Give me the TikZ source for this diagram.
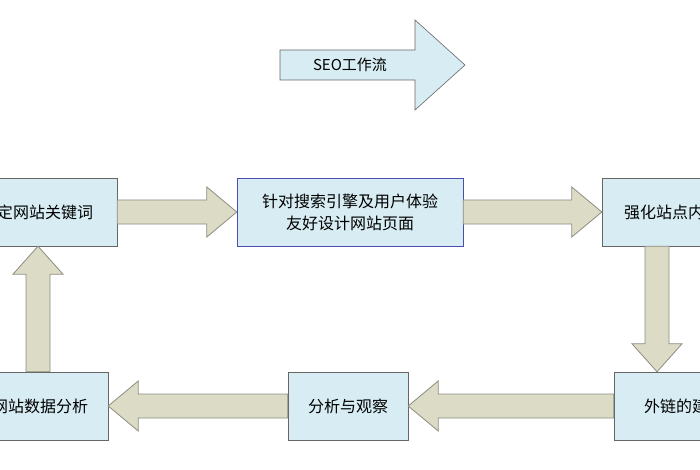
\documentclass[tikz,border=0pt]{standalone}
\usepackage{fontspec}
\newfontfamily\cjk{Noto Sans CJK SC}
\usetikzlibrary{calc}
\definecolor{boxblue}{HTML}{D7ECF3}
\definecolor{arrbeige}{HTML}{DCDCC6}
\definecolor{arrgray}{HTML}{8C8C80}
\tikzset{
  stepbox/.style={draw=gray!80!black, fill=boxblue, inner sep=0pt, align=center, font=\cjk\fontsize{16}{22}\selectfont},
  fatarrow/.style={draw=arrgray, fill=arrbeige, line width=0.8pt, line join=miter}
}
\begin{document}
\begin{tikzpicture}[x=1pt,y=-1pt]
  \useasboundingbox (0,0) rectangle (700,470);
  \clip (0,0) rectangle (700,470);
  \fill[white] (0,0) rectangle (700,470);

  % title arrow
  \draw[fill=boxblue, draw=gray!80!black, line width=0.6pt]
    (280,50) -- (415,50) -- (415,20) -- (465,65) -- (415,110) -- (415,80) -- (280,80) -- cycle;
  \node[font=\cjk\fontsize{15}{18}\selectfont] (title) at (350,65) {SEO工作流};

  % boxes
  \node[stepbox, minimum width=160, minimum height=68] (keyword) at (37,212) {确定网站关键词};
  \node[stepbox, draw=blue!40!gray, minimum width=226, minimum height=68] (design) at (350,212) {针对搜索引擎及用户体验\\友好设计网站页面};
  \node[stepbox, minimum width=140, minimum height=68, text width=120] (inner) at (672,212) {强化站点内容};
  \node[stepbox, minimum width=140, minimum height=68, text width=120] (links) at (684,406) {外链的建设};
  \node[stepbox, minimum width=120, minimum height=68] (observe) at (348,406) {分析与观察};
  \node[stepbox, minimum width=136, minimum height=68] (data) at (40,406) {网站数据分析};

  % right arrows
  \draw[fatarrow] ($(keyword.east)+(0,-12)$) -- ($(design.west)+(-30,-12)$) -- ++(0,-13)
    -- (design.west) -- ($(design.west)+(-30,25)$) -- ++(0,-13) -- ($(keyword.east)+(0,12)$) -- cycle;
  \draw[fatarrow] ($(design.east)+(0,-12)$) -- ($(inner.west)+(-30,-12)$) -- ++(0,-13)
    -- (inner.west) -- ($(inner.west)+(-30,25)$) -- ++(0,-13) -- ($(design.east)+(0,12)$) -- cycle;

  % down arrow
  \coordinate (dx) at (657,0);
  \coordinate (downtop) at (inner.south -| dx);
  \coordinate (downbot) at (links.north -| dx);
  \draw[fatarrow] ($(downtop)+(-12,0)$) -- ($(downbot)+(-12,-28)$) -- ++(-13,0)
    -- (downbot) -- ($(downbot)+(25,-28)$) -- ++(-13,0) -- ($(downtop)+(12,0)$) -- cycle;

  % left arrows
  \draw[fatarrow] ($(links.west)+(0,-12)$) -- ($(observe.east)+(30,-12)$) -- ++(0,-13)
    -- (observe.east) -- ($(observe.east)+(30,25)$) -- ++(0,-13) -- ($(links.west)+(0,12)$) -- cycle;
  \draw[fatarrow] ($(observe.west)+(0,-12)$) -- ($(data.east)+(30,-12)$) -- ++(0,-13)
    -- (data.east) -- ($(data.east)+(30,25)$) -- ++(0,-13) -- ($(observe.west)+(0,12)$) -- cycle;

  % up arrow
  \coordinate (upx) at (38,0);
  \coordinate (upbot) at (data.north -| upx);
  \coordinate (uptop) at (keyword.south -| upx);
  \draw[fatarrow] ($(upbot)+(-12,0)$) -- ($(uptop)+(-12,28)$) -- ++(-13,0)
    -- (uptop) -- ($(uptop)+(25,28)$) -- ++(-13,0)
    -- ($(upbot)+(12,0)$) -- cycle;
\end{tikzpicture}
\end{document}
